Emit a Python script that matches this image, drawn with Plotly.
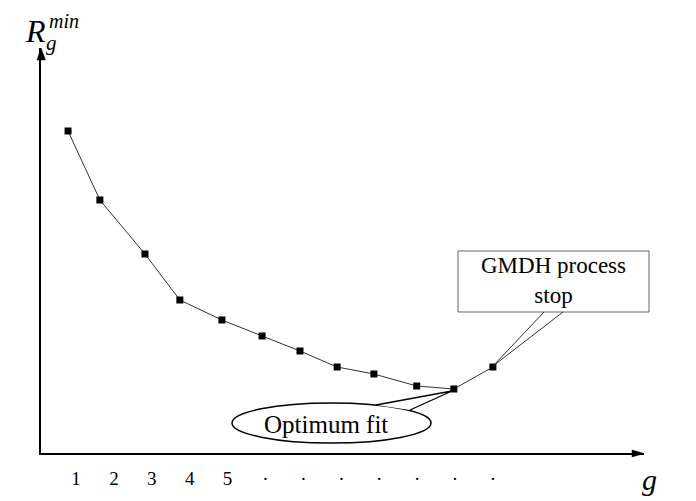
import plotly.graph_objects as go

# ---- data ----
g_pos = [0.79, 1.63, 2.82, 3.74, 4.85, 5.91, 6.91, 7.89, 8.86, 9.99, 10.97, 12.0]
r_min = [3.22, 2.53, 1.99, 1.53, 1.33, 1.17, 1.02, 0.86, 0.79, 0.67, 0.64, 0.86]
tick_vals = [1, 2, 3, 4, 5, 6, 7, 8, 9, 10, 11, 12]
tick_text = ["1", "2", "3", "4", "5", "·", "·", "·", "·", "·", "·", "·"]

W, H = 696, 501
L, R, T, B = 41, 644, 48, 453  # plot area pixel bounds
PX_PER_G = 37.9
X0 = 1 + (L - 76) / PX_PER_G
X1 = 1 + (R - 76) / PX_PER_G
Y1 = (B - T) / 100.0

def px(xp):
    return (xp - L) / (R - L)

def py(yp):
    return (B - yp) / (B - T)

SERIF = "Liberation Serif, Times New Roman, serif"

fig = go.Figure()
fig.add_trace(go.Scatter(
    x=g_pos, y=r_min, mode="lines+markers",
    line=dict(color="#333333", width=1),
    marker=dict(symbol="square", size=7, color="black"),
    showlegend=False, hoverinfo="skip",
))

shapes = []
# axis arrowheads
shapes.append(dict(type="path", xref="paper", yref="paper",
                   path=f"M {px(644)},{py(453.5)} L {px(632)},{py(450)} L {px(632)},{py(457)} Z",
                   fillcolor="black", line=dict(color="black", width=0.5)))
shapes.append(dict(type="path", xref="paper", yref="paper",
                   path=f"M {px(41)},{py(48)} L {px(37)},{py(60)} L {px(45.5)},{py(60)} Z",
                   fillcolor="black", line=dict(color="black", width=0.5)))
# Optimum fit callout
shapes.append(dict(type="circle", xref="paper", yref="paper",
                   x0=px(232), x1=px(431), y0=py(443), y1=py(403),
                   fillcolor="white", line=dict(color="black", width=1.5)))
shapes.append(dict(type="path", xref="paper", yref="paper",
                   path=f"M {px(376)},{py(405)} L {px(452)},{py(391)} L {px(410)},{py(410)}",
                   fillcolor="white", line=dict(color="black", width=1.3)))
# GMDH box callout
shapes.append(dict(type="rect", xref="paper", yref="paper",
                   x0=px(458), x1=px(649), y0=py(312), y1=py(251),
                   fillcolor="white", line=dict(color="#666666", width=1)))
shapes.append(dict(type="path", xref="paper", yref="paper",
                   path=f"M {px(544)},{py(312)} L {px(493)},{py(366)} L {px(563)},{py(312)}",
                   line=dict(color="#333333", width=1)))

def ann(text, x, y, size):
    return dict(text=text, x=px(x), y=py(y), xref="paper", yref="paper",
                xanchor="center", yanchor="middle", showarrow=False,
                font=dict(family=SERIF, size=size, color="black"))

annotations = [
    ann("Optimum fit", 326, 424, 25),
    ann("GMDH process<br>stop", 553, 280, 23),
    ann("<i>R</i>", 35, 31, 32),
    ann("<i>min</i>", 64, 21, 20),
    ann("<i>g</i>", 51, 43, 21),
    ann("<i>g</i>", 649, 479, 30),
]

fig.update_layout(
    width=W, height=H,
    margin=dict(l=L, r=W - R, t=T, b=H - B, pad=0),
    paper_bgcolor="white", plot_bgcolor="white",
    xaxis=dict(range=[X0, X1], showgrid=False, zeroline=False,
               showline=True, linecolor="black", linewidth=1.5,
               tickmode="array", tickvals=tick_vals, ticktext=tick_text,
               ticks="", ticklabelstandoff=7,
               tickfont=dict(family=SERIF, size=19, color="black")),
    yaxis=dict(range=[0, Y1], showgrid=False, zeroline=False,
               showline=True, linecolor="black", linewidth=1.5,
               showticklabels=False, ticks=""),
    shapes=shapes, annotations=annotations,
)

fig.write_html("out.html")
